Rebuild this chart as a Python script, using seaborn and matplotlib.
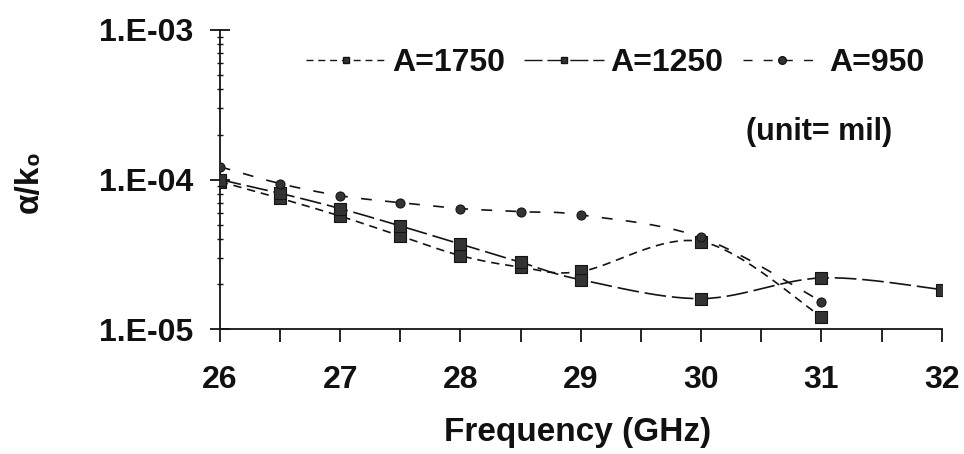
import numpy as np
import pandas as pd
import matplotlib
matplotlib.use("Agg")
import matplotlib.pyplot as plt
import seaborn as sns
from matplotlib.lines import Line2D
from matplotlib.ticker import LogLocator, NullFormatter, FixedLocator, MultipleLocator

# values
freq_1750 = [26, 26.5, 27, 27.5, 28, 28.5, 29, 30, 31]
alpha_1750 = [9.7e-5, 7.5e-5, 5.7e-5, 4.2e-5, 3.1e-5, 2.6e-5, 2.43e-5, 3.85e-5, 1.21e-5]

freq_1250 = [26, 26.5, 27, 27.5, 28, 28.5, 29, 30, 31, 32]
alpha_1250 = [1.0e-4, 8.1e-5, 6.4e-5, 4.9e-5, 3.7e-5, 2.8e-5, 2.14e-5, 1.6e-5, 2.2e-5, 1.84e-5]

freq_950 = [26, 26.5, 27, 27.5, 28, 28.5, 29, 30, 31]
alpha_950 = [1.22e-4, 9.4e-5, 7.8e-5, 7.0e-5, 6.4e-5, 6.1e-5, 5.8e-5, 4.1e-5, 1.53e-5]

x_ticks = [26, 27, 28, 29, 30, 31, 32]
y_ticks = [1e-5, 1e-4, 1e-3]
y_labels = ["1.E-05", "1.E-04", "1.E-03"]


def smooth(x, y, n=30):
    # Catmull-Rom curve through the points (log y), like Excel's smoothed line
    p = np.column_stack([np.asarray(x, float), np.log10(y)])
    p = np.vstack([p[0], p, p[-1]])
    t = np.linspace(0, 1, n)[:, None]
    out = []
    for i in range(1, len(p) - 2):
        p0, p1, p2, p3 = p[i - 1], p[i], p[i + 1], p[i + 2]
        seg = 0.5 * ((2 * p1) + (-p0 + p2) * t + (2 * p0 - 5 * p1 + 4 * p2 - p3) * t ** 2
                     + (-p0 + 3 * p1 - 3 * p2 + p3) * t ** 3)
        out.append(seg if i == 1 else seg[1:])
    out = np.vstack(out)
    return out[:, 0], 10 ** out[:, 1]


sns.set_theme(style="white")
plt.rcParams["font.family"] = ["Liberation Sans", "DejaVu Sans"]
plt.rcParams["font.weight"] = "bold"

fig = plt.figure(figsize=(9.64, 4.54), dpi=100)
ax = fig.add_axes([0.228, 0.275, 0.749, 0.659])

ink = "#141414"
fill = "#333333"
FS = 24
series = [
    ("A=1750", freq_1750, alpha_1750, (0, (5, 3.5)), "s", 8, 5),
    ("A=1250", freq_1250, alpha_1250, (0, (13, 3.5)), "s", 8, 5),
    ("A=950", freq_950, alpha_950, (0, (6.5, 8)), "o", 6.5, 5.5),
]

handles = []
for name, fx, fy, ls, mk, ms, lms in series:
    sx, sy = smooth(fx, fy)
    df = pd.DataFrame({"f": sx, "a": sy})
    sns.lineplot(data=df, x="f", y="a", ax=ax, color=ink, linewidth=1.2,
                 linestyle=ls, sort=False, estimator=None)
    pts = pd.DataFrame({"f": fx, "a": fy})
    sns.scatterplot(data=pts, x="f", y="a", ax=ax, marker=mk, s=ms ** 2,
                    color=fill, edgecolor=ink, linewidth=0.8, zorder=5)
    handles.append(Line2D([], [], color=ink, linestyle=ls, linewidth=1.0,
                          marker=mk, markersize=lms, markerfacecolor=fill,
                          markeredgecolor=ink, label=name))

ax.set_yscale("log")
ax.set_xlim(26, 32)
ax.set_ylim(1e-5, 1e-3)
ax.xaxis.set_major_locator(FixedLocator(x_ticks))
ax.xaxis.set_minor_locator(MultipleLocator(0.5))
ax.set_xticklabels([str(v) for v in x_ticks])
ax.set_yticks(y_ticks)
ax.set_yticklabels(y_labels)
ax.yaxis.set_minor_locator(LogLocator(base=10, subs=np.arange(2, 10)))
ax.yaxis.set_minor_formatter(NullFormatter())
ax.set_xlabel("")
ax.set_ylabel("")

for s in ["top", "right"]:
    ax.spines[s].set_visible(False)
for s in ["left", "bottom"]:
    ax.spines[s].set_color(ink)
    ax.spines[s].set_linewidth(1.3)

ax.tick_params(axis="x", which="both", direction="out", length=9, width=1.3,
               color=ink, bottom=True)
ax.tick_params(axis="x", which="major", labelsize=FS - 1, pad=17)
ax.tick_params(axis="y", which="major", direction="inout", length=14, width=1.3,
               color=ink, labelsize=FS - 1, pad=12, left=True)
ax.tick_params(axis="y", which="minor", direction="inout", length=5, width=1,
               color=ink, left=True)
for lab in ax.get_xticklabels() + ax.get_yticklabels():
    lab.set_fontweight("bold")
    lab.set_color("#111111")

fig.text(578 / 964, 1 - 433 / 454, "Frequency (GHz)", ha="center", va="center",
         fontsize=FS, fontweight="bold", color="#111111")
fig.text(29 / 964, 1 - 181 / 454, "α/k₀", ha="center", va="center", rotation=90,
         fontsize=FS, fontweight="bold", color="#111111")

leg = fig.legend(handles=handles, ncol=3, frameon=False, loc="center right",
                 bbox_to_anchor=(924 / 964, 1 - 63 / 454), fontsize=FS - 1,
                 handlelength=2.5, columnspacing=0.6, handletextpad=0.2,
                 borderpad=0, borderaxespad=0)
for t in leg.get_texts():
    t.set_fontweight("bold")
    t.set_color("#111111")

fig.text(819 / 964, 1 - 132 / 454, "(unit= mil)", ha="center", va="center",
         fontsize=FS - 2, fontweight="bold", color="#111111")

fig.savefig("out.png", dpi=100)
